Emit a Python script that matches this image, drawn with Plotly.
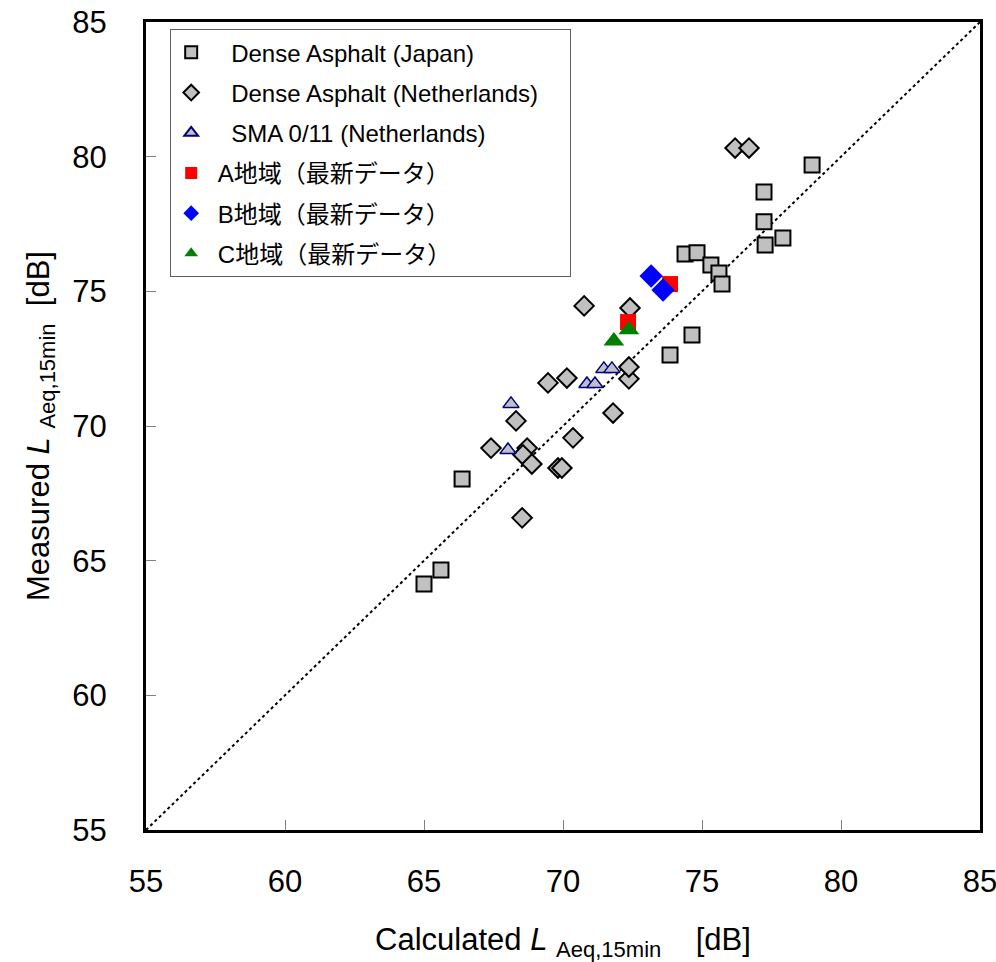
import plotly.graph_objects as go

# Data (x = calculated, y = measured)
japan_x = [65.0, 65.61, 66.37, 73.85, 74.64, 74.39, 74.82, 75.32, 75.61, 75.72, 77.23, 77.23, 77.27, 77.91, 78.96]
japan_y = [64.13, 64.65, 68.03, 72.64, 73.38, 76.39, 76.43, 75.98, 75.68, 75.27, 78.69, 77.58, 76.72, 76.98, 79.69]

nl_x = [69.46, 70.14, 72.37, 72.37, 68.31, 71.80, 67.41, 68.71, 68.56, 68.88, 70.36, 69.82, 69.96, 68.53, 76.19, 76.69, 70.76, 72.41]
nl_y = [71.60, 71.78, 71.75, 72.19, 70.19, 70.48, 69.18, 69.18, 68.93, 68.59, 69.56, 68.44, 68.44, 66.59, 80.32, 80.32, 74.46, 74.38]

sma_x = [70.86, 71.15, 71.47, 71.76, 68.13, 68.02]
sma_y = [71.56, 71.56, 72.12, 72.12, 70.82, 69.11]

a_x = [73.85, 72.34]
a_y = [75.27, 73.86]

b_x = [73.17, 73.60]
b_y = [75.57, 75.05]

c_x = [71.83, 72.37]
c_y = [73.16, 73.57]

names = ["\u00a0\u00a0\u00a0Dense Asphalt (Japan)", "\u00a0\u00a0\u00a0Dense Asphalt (Netherlands)\u00a0\u00a0\u00a0\u00a0",
         "\u00a0\u00a0\u00a0SMA 0/11 (Netherlands)",
         "\u00a0A地域（最新データ）", "\u00a0B地域（最新データ）", "\u00a0C地域（最新データ）"]
ticks = [55, 60, 65, 70, 75, 80, 85]
diag = [55, 85]

font_main = "Liberation Sans, Arial, Noto Sans CJK JP, sans-serif"

fig = go.Figure()
fig.add_trace(go.Scatter(x=diag, y=diag, mode="lines", line=dict(color="black", width=2, dash="dot"),
                         showlegend=False, hoverinfo="skip"))
fig.add_trace(go.Scatter(x=japan_x, y=japan_y, mode="markers", name=names[0], legendgroup="g1",
                         marker=dict(symbol="square", size=15, color="#C0C0C0", line=dict(color="black", width=2))))
fig.add_trace(go.Scatter(x=nl_x, y=nl_y, mode="markers", name=names[1], legendgroup="g2",
                         marker=dict(symbol="diamond", size=15, color="#C0C0C0", line=dict(color="black", width=2))))
fig.add_trace(go.Scatter(x=sma_x, y=sma_y, mode="markers", name=names[2], legendgroup="g3",
                         marker=dict(symbol="triangle-up", size=14, color="#C0C0C8", line=dict(color="#000080", width=1.5))))
fig.add_trace(go.Scatter(x=a_x, y=a_y, mode="markers", name=names[3], legendgroup="g4",
                         marker=dict(symbol="square", size=16, color="#FF0000")))
fig.add_trace(go.Scatter(x=b_x, y=b_y, mode="markers", name=names[4], legendgroup="g5",
                         marker=dict(symbol="diamond", size=18, color="#0000FF")))
fig.add_trace(go.Scatter(x=c_x, y=c_y, mode="markers", name=names[5], legendgroup="g6",
                         marker=dict(symbol="triangle-up", size=18, color="#008000")))

axis_common = dict(range=[55, 85], tickvals=ticks, ticks="inside", ticklen=10, tickwidth=1,
                   tickcolor="#808080", showline=True, linewidth=3, linecolor="black", mirror=True,
                   showgrid=False, zeroline=False, automargin=False, ticklabeloverflow="allow",
                   tickfont=dict(size=31, color="black", family=font_main))

fig.update_layout(
    width=996, height=962,
    margin=dict(l=146, r=16, t=22, b=132),
    plot_bgcolor="white", paper_bgcolor="white",
    font=dict(family=font_main, color="black"),
    showlegend=True,
    legend=dict(x=0.029, y=0.991, xanchor="left", yanchor="top", bgcolor="white",
                bordercolor="#606060", borderwidth=1, font=dict(size=24, family=font_main),
                traceorder="grouped", tracegroupgap=6, itemsizing="constant"),
    xaxis=dict(**axis_common, ticklabelstandoff=22,
               title=dict(text="Calculated <i>L</i> <sub><span style='font-size:22px'>Aeq,15min</span></sub>    [dB]",
                          font=dict(size=31), standoff=32)),
    yaxis=dict(**axis_common, ticklabelstandoff=30,
               title=dict(text="Measured <i>L</i> <sub><span style='font-size:22px'>Aeq,15min</span></sub>  [dB]",
                          font=dict(size=31), standoff=14)),
)

fig.write_html("out.html")
